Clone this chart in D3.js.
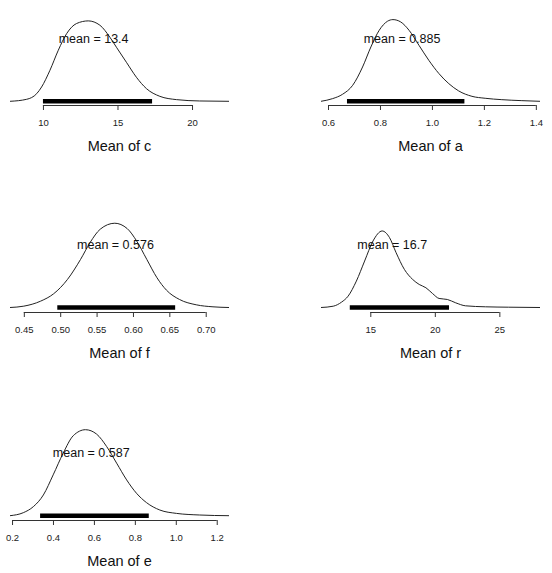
<!DOCTYPE html>
<html>
<head>
<meta charset="utf-8">
<script src="https://cdn.jsdelivr.net/npm/d3@7"></script>
<style>
  body { margin: 0; background: #fff; }
  svg { display: block; font-family: "Liberation Sans", Arial, sans-serif; }
</style>
</head>
<body>
<div id="chart"></div>
<script>
// posterior density of each parameter (x value, relative height)
const cX = [7.79, 8.91, 9.58, 9.91, 10.47, 11.03, 11.59, 12.25, 13.04, 13.82, 14.49, 14.93, 15.60, 16.27, 16.94, 17.84, 18.95, 20.52, 22.48];
const cY = [0, 0.025, 0.095, 0.178, 0.386, 0.635, 0.842, 0.967, 1.0, 0.946, 0.797, 0.672, 0.485, 0.299, 0.158, 0.062, 0.021, 0.004, 0];

const aX = [0.573, 0.618, 0.656, 0.695, 0.733, 0.765, 0.797, 0.829, 0.850, 0.880, 0.912, 0.950, 0.988, 1.027, 1.065, 1.103, 1.154, 1.205, 1.269, 1.346, 1.416];
const aY = [0, 0.033, 0.086, 0.196, 0.42, 0.665, 0.869, 0.98, 1.0, 0.971, 0.869, 0.686, 0.502, 0.339, 0.216, 0.127, 0.061, 0.037, 0.02, 0.008, 0];

const fX = [0.431, 0.450, 0.473, 0.491, 0.510, 0.528, 0.541, 0.555, 0.575, 0.592, 0.605, 0.619, 0.633, 0.646, 0.664, 0.687, 0.710, 0.732];
const fY = [0, 0.016, 0.075, 0.163, 0.333, 0.571, 0.770, 0.929, 1.0, 0.937, 0.79, 0.571, 0.353, 0.206, 0.095, 0.032, 0.008, 0];

const rX = [11.18, 12.13, 12.77, 13.28, 13.92, 14.56, 15.21, 15.92, 16.49, 17.0, 17.64, 18.28, 18.79, 19.31, 19.82, 20.33, 20.97, 21.62, 22.38, 23.92, 25.72, 28.15];
const rY = [0, 0.017, 0.07, 0.148, 0.345, 0.607, 0.869, 1.0, 0.913, 0.716, 0.498, 0.367, 0.301, 0.258, 0.183, 0.118, 0.105, 0.061, 0.022, 0.009, 0.004, 0];

const eX = [0.190, 0.255, 0.304, 0.353, 0.401, 0.450, 0.499, 0.559, 0.613, 0.662, 0.711, 0.760, 0.808, 0.857, 0.922, 1.003, 1.117, 1.260];
const eY = [0, 0.035, 0.105, 0.241, 0.475, 0.728, 0.93, 1.0, 0.949, 0.805, 0.611, 0.416, 0.261, 0.152, 0.066, 0.027, 0.008, 0];

const names = ['c', 'a', 'f', 'r', 'e'];
const means = ['13.4', '0.885', '0.576', '16.7', '0.587'];
const meanValues = [13.4, 0.885, 0.576, 16.7, 0.587];
const hdiLow = [10.0, 0.673, 0.496, 13.41, 0.337];
const hdiHigh = [17.32, 1.125, 0.658, 21.1, 0.868];
const peaks = [0.935, 0.95, 0.98, 0.89, 1.0];   // peak height relative to tallest panel
const tickValues = [
  [10, 15, 20],
  [0.6, 0.8, 1.0, 1.2, 1.4],
  [0.45, 0.50, 0.55, 0.60, 0.65, 0.70],
  [15, 20, 25],
  [0.2, 0.4, 0.6, 0.8, 1.0, 1.2]
];
const tickLabels = [
  ['10', '15', '20'],
  ['0.6', '0.8', '1.0', '1.2', '1.4'],
  ['0.45', '0.50', '0.55', '0.60', '0.65', '0.70'],
  ['15', '20', '25'],
  ['0.2', '0.4', '0.6', '0.8', '1.0', '1.2']
];
const densities = [[cX, cY], [aX, aY], [fX, fY], [rX, rY], [eX, eY]];

const width = 552, height = 573;
const colLeft = [10, 45];          // where the curve starts in each column
const curveWidth = 219;
const baseY = [101.3, 307.5, 515.7];   // y of density = 0 in each row
const peakPx = 86;

const svg = d3.select('#chart').append('svg')
  .attr('width', width)
  .attr('height', height);

densities.forEach(function (d, i) {
  const col = i % 2, row = Math.floor(i / 2);
  const x0 = col * 276 + colLeft[col];
  const xs = d[0], ys = d[1];

  const x = d3.scaleLinear()
    .domain([xs[0], xs[xs.length - 1]])
    .range([x0, x0 + curveWidth]);
  const y = d3.scaleLinear()
    .domain([0, 1])
    .range([baseY[row], baseY[row] - peakPx]);

  const g = svg.append('g');

  // density curve
  const line = d3.line()
    .x(function (p) { return x(p[0]); })
    .y(function (p) { return y(p[1] * peaks[i]); })
    .curve(d3.curveMonotoneX);
  g.append('path')
    .datum(d3.zip(xs, ys))
    .attr('d', line)
    .attr('fill', 'none')
    .attr('stroke', '#222')
    .attr('stroke-width', 1);

  // HDI bar
  g.append('line')
    .attr('x1', x(hdiLow[i]))
    .attr('x2', x(hdiHigh[i]))
    .attr('y1', y(0))
    .attr('y2', y(0))
    .attr('stroke', '#000')
    .attr('stroke-width', 4.5);

  // mean label
  g.append('text')
    .attr('x', x(meanValues[i]))
    .attr('y', y(0) - 63)
    .attr('dy', '0.35em')
    .attr('text-anchor', 'middle')
    .attr('font-size', 12.5)
    .attr('fill', '#111')
    .text('mean = ' + means[i]);

  // x axis
  const axisY = Math.round(y(0) + 4) ;
  const ticks = tickValues[i];
  const axis = d3.axisBottom(x)
    .tickValues(ticks)
    .tickSize(5)
    .tickSizeOuter(0)
    .tickPadding(9)
    .tickFormat(function (v, k) { return tickLabels[i][k]; });
  const ax = g.append('g')
    .attr('transform', 'translate(0,' + axisY + ')')
    .call(axis);
  ax.select('.domain')
    .attr('d', 'M' + x(ticks[0]) + ',0.5H' + x(ticks[ticks.length - 1]))
    .attr('stroke', '#333');
  ax.selectAll('.tick line').attr('stroke', '#333');
  ax.selectAll('.tick text')
    .attr('font-size', 9.5)
    .attr('font-family', '"Liberation Sans", Arial, sans-serif')
    .attr('fill', '#222');

  // title
  g.append('text')
    .attr('x', x0 + curveWidth / 2)
    .attr('y', axisY + 41)
    .attr('dy', '0.35em')
    .attr('text-anchor', 'middle')
    .attr('font-size', 14.5)
    .attr('fill', '#111')
    .text('Mean of ' + names[i]);
});
</script>
</body>
</html>
